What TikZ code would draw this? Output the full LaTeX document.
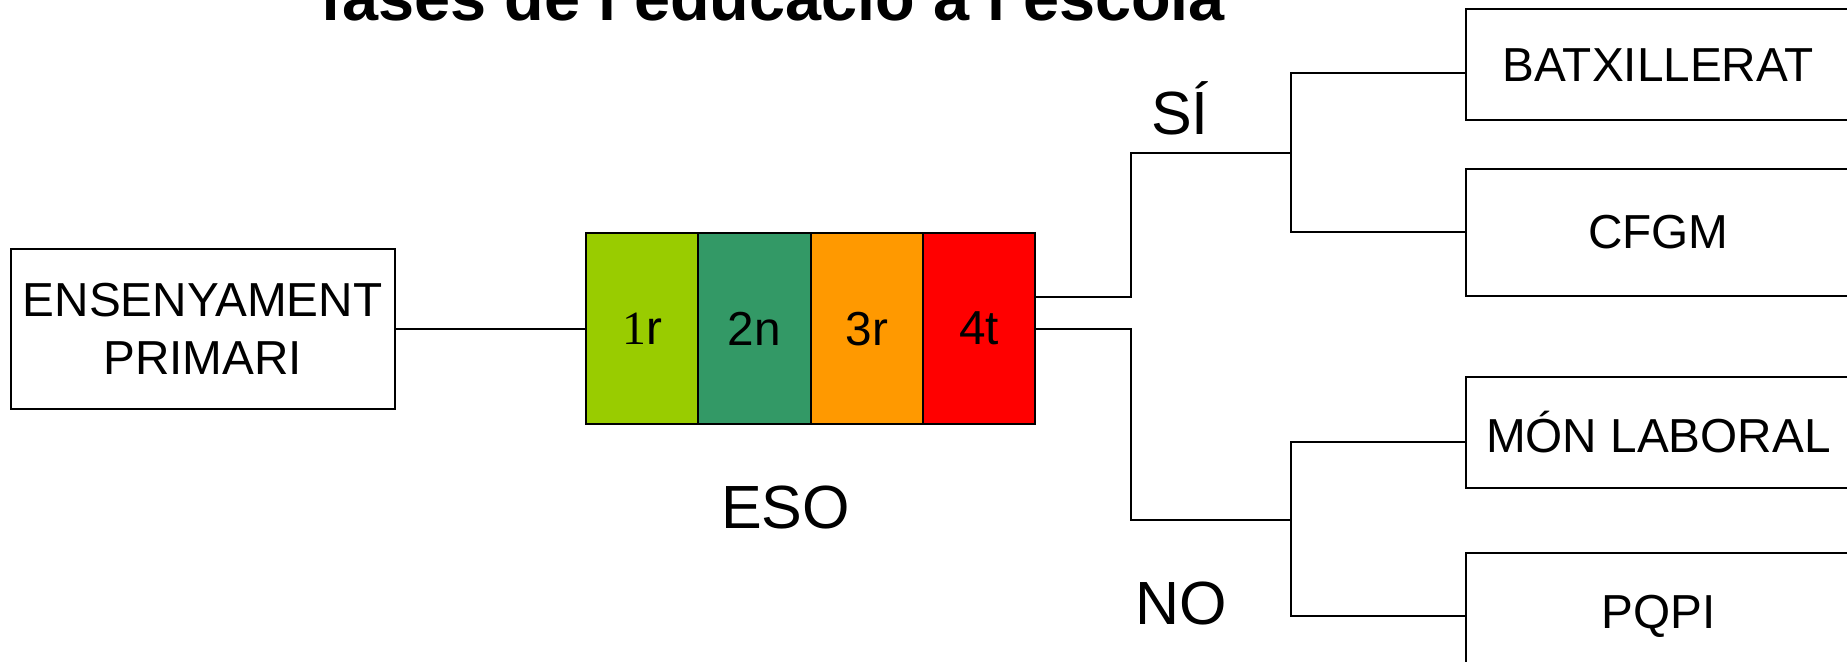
\documentclass[tikz,border=0pt]{standalone}
\usepackage{fontspec}
\setmainfont{Liberation Sans}
\newfontfamily\serifu{Liberation Serif}

\definecolor{primer}{HTML}{99CC00}
\definecolor{segon}{HTML}{339966}
\definecolor{tercer}{HTML}{FF9900}
\definecolor{quart}{HTML}{FF0000}

\tikzset{
  caixa/.style={draw, line width=1pt, inner sep=0pt, minimum width=192pt,
    align=center, font=\fontsize{23.85}{28.9}\selectfont},
  curs/.style={draw, line width=1pt, inner sep=0pt, minimum width=56.1pt,
    minimum height=95.5pt, font=\fontsize{23.85}{28.9}\selectfont},
  etiqueta/.style={font=\fontsize{30.5}{36}\selectfont}
}

\begin{document}
\begin{tikzpicture}[x=0.5pt, y=-0.5pt, line width=1pt]
        \useasboundingbox (0,0) rectangle (1847,662);
        \node[anchor=base, font=\bfseries\fontsize{32.4}{38}\selectfont] (titol) at (773,21) {fases de l'educació a l'escola};
        %%
        \node[caixa, minimum height=80pt] (prim) at (202.6,328.7) {ENSENYAMENT\\PRIMARI};
        \node[curs, fill=primer] (c1) at (642.5,328.7) {{\serifu 1}r};
        \node[curs, fill=segon] (c2) at (754.5,328.7) {2n};
        \node[curs, fill=tercer] (c3) at (866.7,328.7) {3r};
        \node[curs, fill=quart] (c4) at (978.9,328.7) {4t};
        \node[etiqueta] (eso) at (785.7,507.7) {ESO};
        %%
        \node[etiqueta] (si) at (1180,108) {SÍ};
        \node[etiqueta] (no) at (1181.5,603) {NO};
        %%
        \node[caixa, minimum height=55.4pt] (batx) at (1658.3,64.8) {BATXILLERAT};
        \node[caixa, minimum height=63.5pt] (cfgm) at (1658.3,232.1) {CFGM};
        \node[caixa, minimum height=55.4pt] (mon) at (1658.3,432.3) {MÓN LABORAL};
        \node[caixa, minimum height=63.5pt] (pqpi) at (1658.3,616) {PQPI};
        %%
        \coordinate (bsi) at (1130.9,153.1);
        \coordinate (bno) at (1130.9,519.5);
        \coordinate (dsi) at (1291.1,153.1);
        \coordinate (dno) at (1291.1,519.5);
        %%
        \draw (prim.east) -- (c1.west);
        \draw ([yshift=15.9pt]c4.east) -| (bsi) -- (dsi);
        \draw (c4.east) -| (bno) -- (dno);
        \draw ([yshift=-4.1pt]batx.west) -| (dsi) |- (cfgm.west);
        \draw ([yshift=-4.75pt]mon.west) -| (dno) |- (pqpi.west);
\end{tikzpicture}
\end{document}
